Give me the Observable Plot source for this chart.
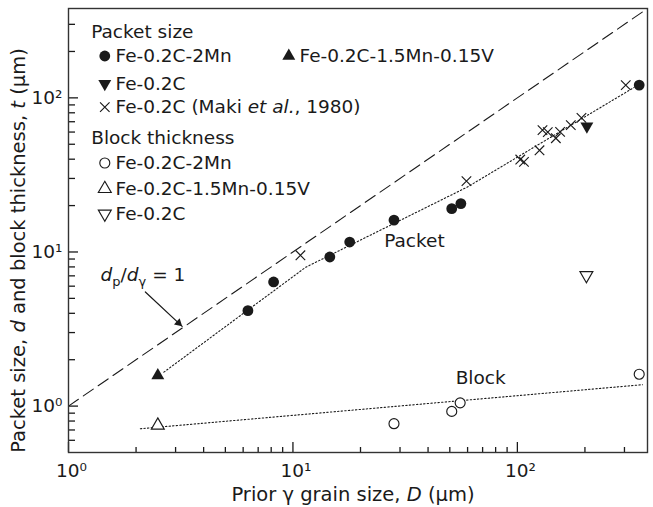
<!DOCTYPE html>
<html><head><meta charset="utf-8">
<script src="https://cdn.jsdelivr.net/npm/d3@7"></script>
<script src="https://cdn.jsdelivr.net/npm/@observablehq/plot@0.6"></script>
<style>body{margin:0;background:#fff} svg{display:block}</style>
</head><body><div id="chart"></div>
<script>
// ---- Packet size data (prior grain size D, packet size d) ----
const packetMnD = [6.3, 8.2, 14.6, 17.9, 28.2, 51, 56, 349];
const packetMnT = [4.16, 6.39, 9.28, 11.6, 16.1, 19.1, 20.6, 121];
const packetVD = [2.5];
const packetVT = [1.58];
const packetCD = [204];
const packetCT = [65.5];
const makiD = [10.8, 59.3, 103, 107, 125.5, 129.4, 136.6, 148.4, 155, 173, 193, 304];
const makiT = [9.52, 28.8, 39.8, 38.4, 45.7, 61.7, 59.9, 54.7, 60.1, 66.5, 74.1, 121];
// ---- Block thickness data ----
const blockMnD = [28.2, 51, 55.6, 349];
const blockMnT = [0.769, 0.924, 1.05, 1.61];
const blockVD = [2.5];
const blockVT = [0.75];
const blockCD = [203];
const blockCT = [7.06];
// ---- Fitted / reference lines ----
const packetFitD = [2.66, 11.4, 59.9, 331];
const packetFitT = [1.66, 7.96, 26.4, 116.8];
const blockFitD = [2.09, 361];
const blockFitT = [0.713, 1.377];
const unityD = [1, 380];
// ---- Axes ----
const xDomain = [1, 380];
const yDomain = [0.5, 380];
const xMajor = [1, 10, 100];
const xMinor = [2,3,4,5,6,7,8,9,20,30,40,50,60,70,80,90,200,300];
const yMajor = [1, 10, 100];
const yMinor = [0.6,0.7,0.8,0.9,2,3,4,5,6,7,8,9,20,30,40,50,60,70,80,90,200,300];
const supDigits = ["⁰","¹","²","³"];
// ---- Text ----
const xLabel = "Prior γ grain size, D (μm)";
const yLabel = "Packet size, d and block thickness, t (μm)";
const curveLabels = ["Packet", "Block"];
const curveLabelD = [25.5, 53.1];
const curveLabelT = [11.7, 1.524];
const unityLabel = "dp/dγ = 1";
const unityLabelPos = [1.39, 7.06];
const arrowFrom = [2.20, 5.50];
const arrowTo = [3.21, 3.29];
const legendHeaders = ["Packet size", "Block thickness"];
const legendLabels = ["Fe-0.2C-2Mn", "Fe-0.2C-1.5Mn-0.15V", "Fe-0.2C", "Fe-0.2C (Maki et al., 1980)", "Fe-0.2C-2Mn", "Fe-0.2C-1.5Mn-0.15V", "Fe-0.2C"];

const ink = "#1a1a1a";
const series = [
  {D: packetMnD, T: packetMnT, symbol: "circle", fill: ink, stroke: "none", r: 5.4, rotate: 0},
  {D: packetVD, T: packetVT, symbol: "triangle", fill: ink, stroke: "none", r: 4.8, rotate: 0},
  {D: packetCD, T: packetCT, symbol: "triangle", fill: ink, stroke: "none", r: 4.8, rotate: 180},
  {D: makiD, T: makiT, symbol: "times", fill: "none", stroke: ink, r: 4.4, rotate: 0},
  {D: blockMnD, T: blockMnT, symbol: "circle", fill: "white", stroke: ink, r: 5, rotate: 0},
  {D: blockVD, T: blockVT, symbol: "triangle", fill: "white", stroke: ink, r: 4.8, rotate: 0},
  {D: blockCD, T: blockCT, symbol: "triangle", fill: "white", stroke: ink, r: 4.8, rotate: 180}
];
// legend layout (pixel offsets from the frame's top-left corner)
const legendSymDx = [36.3, 220.3, 36.3, 36.3, 36.3, 36.3, 36.3];
const legendDy = [47.5, 47.5, 75.3, 98.7, 154.5, 180.3, 205.3];
const legendHeaderDy = [23.7, 129.5];

const pts = (D, T) => D.map((d, i) => ({D: d, T: T[i]}));
const dotOpts = s => ({symbol: s.symbol, r: s.r, fill: s.fill, stroke: s.stroke, rotate: s.rotate, strokeWidth: 1.15});
const fmt = d => "10" + supDigits[Math.round(Math.log10(d))];

const marks = [
  Plot.line(pts(unityD, unityD), {x: "D", y: "T", stroke: ink, strokeWidth: 1.1, strokeDasharray: "12,6"}),
  Plot.line(pts(packetFitD, packetFitT), {x: "D", y: "T", stroke: ink, strokeWidth: 1.1, strokeDasharray: "1.4,2.2"}),
  Plot.line(pts(blockFitD, blockFitT), {x: "D", y: "T", stroke: ink, strokeWidth: 1.1, strokeDasharray: "1.4,2.2"}),
  ...series.map(s => Plot.dot(pts(s.D, s.T), {x: "D", y: "T", ...dotOpts(s)})),
  Plot.text(curveLabels.map((t, i) => ({t, D: curveLabelD[i], T: curveLabelT[i]})), {x: "D", y: "T", text: "t", textAnchor: "start", fill: ink}),
  Plot.text([unityLabel], {x: () => unityLabelPos[0], y: () => unityLabelPos[1], text: d => d, textAnchor: "start", fill: ink}),
  Plot.arrow([0], {x1: () => arrowFrom[0], y1: () => arrowFrom[1], x2: () => arrowTo[0], y2: () => arrowTo[1], stroke: ink, strokeWidth: 1.2, headLength: 0}),
  Plot.dot([0], {x: () => arrowTo[0], y: () => arrowTo[1], symbol: "triangle", r: 3.1, rotate: 133, fill: ink, dx: -3.6, dy: -3.4}),
  // legend
  ...legendHeaders.map((h, i) => Plot.text([h], {frameAnchor: "top-left", dx: 22.7, dy: legendHeaderDy[i], text: d => d, textAnchor: "start", lineAnchor: "middle", fill: ink})),
  ...series.map((s, i) => Plot.dot([0], {frameAnchor: "top-left", dx: legendSymDx[i], dy: legendDy[i], ...dotOpts(s)})),
  ...legendLabels.map((l, i) => Plot.text([l], {frameAnchor: "top-left", dx: legendSymDx[i] + 10.7, dy: legendDy[i], text: d => d, textAnchor: "start", lineAnchor: "middle", fill: ink})),
  // inward ticks (axis ticks shifted inside the frame)
  Plot.axisX(xMinor, {tickSize: 5, dy: -5, fill: "none", stroke: ink, strokeWidth: 1.3, label: null}),
  Plot.axisX(xMajor, {tickSize: 10, dy: -10, fill: "none", stroke: ink, strokeWidth: 1.3, label: null}),
  Plot.axisY(yMinor, {tickSize: 7, dx: 7, fill: "none", stroke: ink, strokeWidth: 1.3, label: null}),
  Plot.axisY(yMajor, {tickSize: 10, dx: 10, fill: "none", stroke: ink, strokeWidth: 1.3, label: null}),
  // tick labels
  Plot.axisX(xMajor, {tickSize: 0, tickPadding: 11, dx: 3, label: null, fill: ink, tickFormat: fmt}),
  Plot.axisY(yMajor, {tickSize: 0, tickPadding: 6, label: null, fill: ink, tickFormat: fmt}),
  // axis titles
  Plot.text([xLabel], {frameAnchor: "bottom", dx: -5, dy: 42, text: d => d, textAnchor: "middle", lineAnchor: "middle", fontSize: 19.5, fill: ink}),
  Plot.text([yLabel], {frameAnchor: "left", rotate: -90, dx: -50, dy: 20, text: d => d, textAnchor: "middle", lineAnchor: "middle", fontSize: 19.5, fill: ink}),
  Plot.frame({stroke: "#333", strokeWidth: 1.4})
];

const svg = Plot.plot({
  width: 653, height: 507,
  marginLeft: 68, marginRight: 6, marginTop: 8, marginBottom: 55,
  x: {type: "log", domain: xDomain, label: null},
  y: {type: "log", domain: yDomain, label: null},
  style: {fontFamily: "DejaVu Sans", fontSize: "18.5px", color: ink, background: "#fff"},
  marks
});

// rich text (italics, subscripts)
const NS = "http://www.w3.org/2000/svg";
function rich(plain, parts) {
  for (const t of svg.querySelectorAll("text")) {
    if (t.textContent !== plain) continue;
    while (t.firstChild) t.removeChild(t.firstChild);
    let shift = 0;
    for (const p of parts) {
      const ts = document.createElementNS(NS, "tspan");
      ts.textContent = p.t;
      if (p.i) ts.setAttribute("font-style", "italic");
      if (p.sub) { ts.setAttribute("font-size", "13px"); ts.setAttribute("dy", 5 - shift); shift = 5; }
      else if (shift) { ts.setAttribute("dy", -shift); shift = 0; }
      t.appendChild(ts);
    }
  }
}
rich(xLabel, [{t: "Prior γ grain size, "}, {t: "D", i: 1}, {t: " (μm)"}]);
rich(yLabel, [{t: "Packet size, "}, {t: "d", i: 1}, {t: " and block thickness, "}, {t: "t", i: 1}, {t: " (μm)"}]);
rich(unityLabel, [{t: "d", i: 1}, {t: "p", sub: 1}, {t: "/"}, {t: "d", i: 1}, {t: "γ", sub: 1}, {t: " = 1"}]);
rich("Fe-0.2C (Maki et al., 1980)", [{t: "Fe-0.2C (Maki "}, {t: "et al.", i: 1}, {t: ", 1980)"}]);

document.getElementById("chart").appendChild(svg);
</script>
</body></html>
